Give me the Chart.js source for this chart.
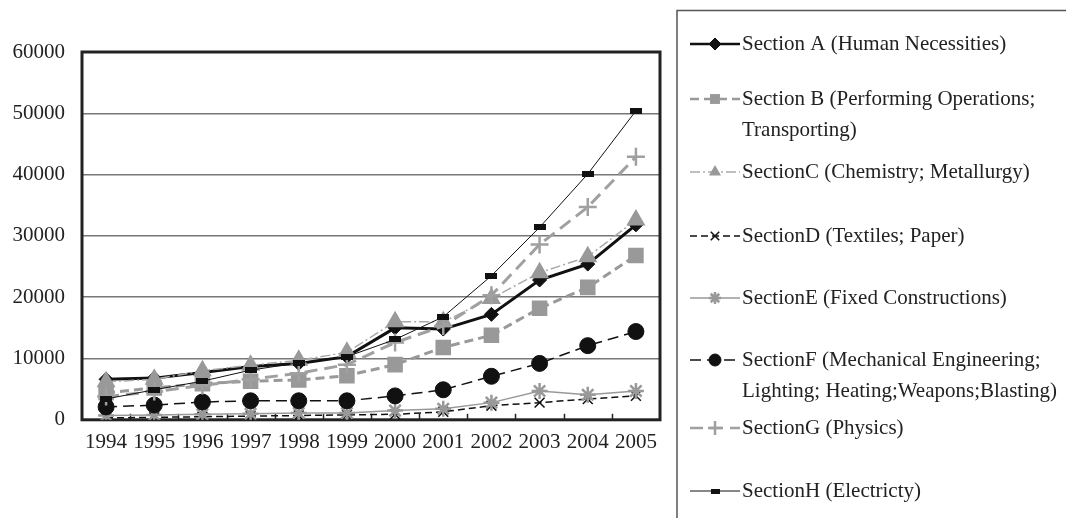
<!DOCTYPE html>
<html>
<head>
<meta charset="utf-8">
<script src="https://cdn.jsdelivr.net/npm/chart.js@4"></script>
<style>
  body { margin: 0; background: #fff; }
  #wrap { width: 1066px; height: 518px; position: relative; }
</style>
</head>
<body>
<div id="wrap"><canvas id="chart"></canvas></div>
<script>
const years = ["1994", "1995", "1996", "1997", "1998", "1999", "2000", "2001", "2002", "2003", "2004", "2005"];
const secA = [6600, 6800, 7700, 8700, 9200, 10300, 15000, 14800, 17200, 22800, 25400, 31800];
const secB = [4400, 5200, 5900, 6300, 6500, 7200, 9000, 11800, 13800, 18200, 21600, 26800];
const secC = [6200, 6600, 8000, 8900, 9700, 11000, 16000, 16000, 19800, 24000, 26600, 32600];
const secD = [300, 400, 500, 600, 700, 800, 900, 1300, 2300, 2800, 3400, 3900];
const secE = [700, 800, 900, 1000, 1100, 1100, 1500, 1800, 2800, 4700, 4100, 4700];
const secF = [2100, 2400, 2900, 3100, 3100, 3100, 3900, 4900, 7100, 9200, 12100, 14400];
const secG = [3800, 4600, 5600, 6600, 7600, 9000, 12600, 15300, 20300, 28600, 34700, 42900];
const secH = [3400, 4900, 6300, 8100, 9300, 10300, 13100, 16800, 23500, 31400, 40100, 50400];

const legendLines = [
    ["Section A (Human Necessities)"],
    ["Section B (Performing Operations;", "Transporting)"],
    ["SectionC (Chemistry; Metallurgy)"],
    ["SectionD (Textiles; Paper)"],
    ["SectionE (Fixed Constructions)"],
    ["SectionF (Mechanical Engineering;", "Lighting; Heating;Weapons;Blasting)"],
    ["SectionG (Physics)"],
    ["SectionH (Electricty)"]
];
const legendY = [44, 99, 172, 236, 298, 360, 428, 491];

const serif = '"Liberation Serif", "DejaVu Serif", serif';
const gray = "#999999";

// small flat rectangle used as the Section H marker
function rectMarker(w, h) {
    const c = document.createElement("canvas");
    c.width = w; c.height = h;
    const g = c.getContext("2d");
    g.fillStyle = "#111";
    g.fillRect(0, 0, w, h);
    return c;
}
const hMarker = rectMarker(12, 6);
const hMarkerSmall = rectMarker(9, 5);

const datasets = [
    { label: legendLines[0].join(" "), data: secA, borderColor: "#111", backgroundColor: "#111", borderWidth: 3,
      pointStyle: "rectRot", pointRadius: 7, pointBorderWidth: 1, legendRadius: 6 },
    { label: legendLines[1].join(" "), data: secB, borderColor: gray, backgroundColor: gray, borderWidth: 3, borderDash: [9, 5],
      pointStyle: "rect", pointRadius: 11, pointBorderWidth: 0, legendRadius: 7 },
    { label: legendLines[2].join(" "), data: secC, borderColor: "#aaaaaa", backgroundColor: gray, borderWidth: 1.5, borderDash: [10, 3, 2, 3],
      pointStyle: "triangle", pointRadius: 11, pointBorderWidth: 0, pointBorderColor: gray, legendRadius: 7 },
    { label: legendLines[3].join(" "), data: secD, borderColor: "#111", backgroundColor: "#111", borderWidth: 1.5, borderDash: [7, 4],
      pointStyle: "crossRot", pointRadius: 7, pointBorderWidth: 1.5, legendRadius: 6 },
    { label: legendLines[4].join(" "), data: secE, borderColor: gray, backgroundColor: gray, borderWidth: 1.5,
      pointStyle: "star", pointRadius: 8, pointBorderWidth: 2.5, legendRadius: 6 },
    { label: legendLines[5].join(" "), data: secF, borderColor: "#111", backgroundColor: "#111", borderWidth: 1.5, borderDash: [11, 6],
      pointStyle: "circle", pointRadius: 8, pointBorderWidth: 1, legendRadius: 6 },
    { label: legendLines[6].join(" "), data: secG, borderColor: "#a0a0a0", backgroundColor: "#a0a0a0", borderWidth: 3, borderDash: [13, 7],
      pointStyle: "cross", pointRadius: 9, pointBorderWidth: 2.5, legendRadius: 7 },
    { label: legendLines[7].join(" "), data: secH, borderColor: "#111", backgroundColor: "#111", borderWidth: 1,
      pointStyle: hMarker, pointRadius: 6, pointBorderWidth: 0, legendRadius: 5, legendImage: hMarkerSmall }
];
datasets.forEach((d, i) => {
    d.order = datasets.length - i; // later sections drawn on top, like the original
    d.fill = false;
    d.tension = 0;
    d.pointBackgroundColor = d.backgroundColor;
    if (!d.pointBorderColor) d.pointBorderColor = d.borderColor;
    d.pointHoverRadius = d.pointRadius;
});

// frame of the plot area and the small inward ticks on the x axis
const framePlugin = {
    id: "frame",
    beforeDatasetsDraw(chart) {
        const { ctx, chartArea: a, scales } = chart;
        const x = scales.x;
        ctx.save();
        ctx.strokeStyle = "#222";
        ctx.lineWidth = 1.5;
        const step = x.getPixelForValue(1) - x.getPixelForValue(0);
        for (let i = 1; i < years.length; i++) {
            const px = Math.round(x.getPixelForValue(i) - step / 2) + 0.5;
            ctx.beginPath();
            ctx.moveTo(px, a.bottom);
            ctx.lineTo(px, a.bottom - 6);
            ctx.stroke();
        }
        ctx.lineWidth = 3;
        ctx.strokeRect(a.left, a.top, a.right - a.left, a.bottom - a.top);
        ctx.restore();
    }
};

// legend box on the right, drawn by hand to keep the two-line labels
const legendPlugin = {
    id: "sideLegend",
    afterDraw(chart) {
        const ctx = chart.ctx;
        ctx.save();
        ctx.strokeStyle = "#555";
        ctx.lineWidth = 1.5;
        ctx.beginPath();
        ctx.moveTo(677, 530);
        ctx.lineTo(677, 10.5);
        ctx.lineTo(1070, 10.5);
        ctx.stroke();

        ctx.font = "21px " + serif;
        ctx.fillStyle = "#222";
        ctx.textBaseline = "middle";
        datasets.forEach((d, i) => {
            const y = legendY[i];
            ctx.save();
            ctx.strokeStyle = d.borderColor;
            ctx.lineWidth = Math.min(d.borderWidth, 2.5);
            ctx.setLineDash(d.borderDash || []);
            ctx.beginPath();
            ctx.moveTo(690, y);
            ctx.lineTo(740, y);
            ctx.stroke();
            ctx.setLineDash([]);
            if (d.legendImage) {
                ctx.drawImage(d.legendImage, 715 - d.legendImage.width / 2, y - d.legendImage.height / 2);
            } else {
                ctx.fillStyle = d.backgroundColor;
                ctx.strokeStyle = d.pointBorderColor;
                ctx.lineWidth = d.pointBorderWidth || 0.01;
                Chart.helpers.drawPoint(ctx, {
                    pointStyle: d.pointStyle, radius: d.legendRadius, rotation: 0,
                    borderWidth: d.pointBorderWidth
                }, 715, y);
            }
            ctx.restore();
            legendLines[i].forEach((t, k) => {
                ctx.fillText(t, 742, y + k * 31);
            });
        });
        ctx.restore();
    }
};

new Chart(document.getElementById("chart"), {
    type: "line",
    data: { labels: years, datasets: datasets },
    options: {
        responsive: true,
        maintainAspectRatio: false,
        animation: false,
        events: [],
        layout: { padding: { left: 10, top: 52, right: 406, bottom: 53 } },
        plugins: { legend: { display: false }, tooltip: { enabled: false } },
        scales: {
            x: {
                offset: true,
                grid: { display: false, drawTicks: false },
                border: { display: false },
                ticks: { color: "#222", font: { family: serif, size: 21 }, padding: 10, maxRotation: 0, autoSkip: false }
            },
            y: {
                min: 0,
                max: 60000,
                afterFit: s => { s.width = 72; },
                grid: { color: "#777", lineWidth: 1.5, drawTicks: false },
                border: { display: false },
                ticks: { stepSize: 10000, color: "#222", font: { family: serif, size: 21 }, padding: 17,
                         callback: v => String(v) }
            }
        }
    },
    plugins: [framePlugin, legendPlugin]
});
</script>
</body>
</html>
